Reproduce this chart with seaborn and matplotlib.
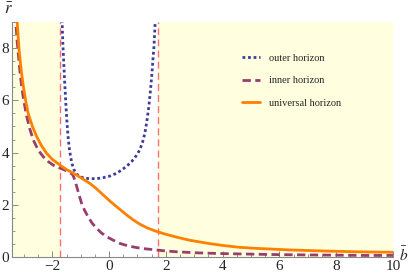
import numpy as np
import pandas as pd
import matplotlib
matplotlib.use("Agg")
import matplotlib.pyplot as plt
from matplotlib.ticker import MultipleLocator
import seaborn as sns

# values
outer_b = [-1.665, -1.63, -1.60, -1.56, -1.52, -1.48, -1.44, -1.40, -1.35, -1.30,
           -1.24, -1.16, -1.05, -0.90, -0.70, -0.45, -0.20, 0.03, 0.25, 0.44,
           0.62, 0.79, 0.95, 1.08, 1.18, 1.26, 1.33, 1.40, 1.45, 1.50,
           1.54, 1.58, 1.61, 1.635]
outer_r = [9.3, 8.2, 7.5, 6.6, 5.8, 5.1, 4.55, 4.15, 3.8, 3.55,
           3.35, 3.19, 3.09, 3.03, 3.0, 3.0, 3.04, 3.10, 3.20, 3.33,
           3.48, 3.65, 3.87, 4.10, 4.40, 4.74, 5.20, 5.76, 6.30, 6.91,
           7.50, 8.06, 8.7, 9.3]

inner_b = [-3.30, -3.25, -3.20, -3.14, -3.08, -3.00, -2.90, -2.80, -2.67, -2.50,
           -2.32, -2.15, -1.97, -1.80, -1.67, -1.50, -1.38, -1.30, -1.24, -1.18,
           -1.12, -1.05, -0.97, -0.86, -0.74, -0.60, -0.44, -0.28, -0.09, 0.15,
           0.38, 0.65, 0.97, 1.30, 1.67, 2.0, 2.38, 3.08, 4.0, 5.0,
           6.0, 7.0, 8.0, 9.0, 10.0]
inner_r = [9.3, 8.4, 7.8, 7.1, 6.53, 5.95, 5.38, 4.93, 4.48, 4.1,
           3.84, 3.66, 3.52, 3.43, 3.38, 3.30, 3.22, 3.18, 3.05, 2.85,
           2.62, 2.35, 2.06, 1.78, 1.54, 1.30, 1.10, 0.93, 0.78, 0.64,
           0.52, 0.43, 0.36, 0.31, 0.27, 0.23, 0.20, 0.16, 0.13, 0.11,
           0.09, 0.08, 0.07, 0.06, 0.06]

univ_b = [-3.25, -3.20, -3.16, -3.09, -3.02, -2.94, -2.85, -2.70, -2.55, -2.38,
          -2.20, -2.00, -1.73, -1.50, -1.26, -1.00, -0.68, -0.45, -0.21, 0.03,
          0.26, 0.45, 0.62, 0.85, 1.08, 1.35, 1.67, 2.0, 2.38, 2.85,
          3.5, 4.02, 4.6, 5.19, 6.37, 7.55, 8.72, 10.0]
univ_r = [9.2, 8.4, 7.8, 7.1, 6.53, 6.0, 5.5, 5.0, 4.61, 4.26,
          3.97, 3.74, 3.52, 3.35, 3.21, 3.04, 2.82, 2.62, 2.38, 2.14,
          1.93, 1.76, 1.61, 1.42, 1.26, 1.11, 0.98, 0.87, 0.76, 0.64,
          0.52, 0.44, 0.37, 0.33, 0.27, 0.23, 0.20, 0.18]

b_crit = [-np.sqrt(3), np.sqrt(3)]
x_range = [-3.42, 10]
y_range = [0, 9]

sns.set_theme(style="white")
plt.rcParams["font.family"] = ["Liberation Serif", "DejaVu Serif"]
plt.rcParams["mathtext.fontset"] = "stix"

fig = plt.figure(figsize=(4.09, 2.77), dpi=100)
ax = fig.add_axes([12 / 409, 20 / 277, 381 / 409, 235 / 277])

# shaded regions outside the critical lines
ax.axvspan(x_range[0], b_crit[0], color="#ffffe0", zorder=0, lw=0)
ax.axvspan(b_crit[1], x_range[1], color="#ffffe0", zorder=0, lw=0)
for xb in b_crit:
    ax.axvline(xb, color="#ff7070", lw=1.0, ls=(0, (5, 3)), zorder=1)

outer = pd.DataFrame({"b": outer_b, "r": outer_r})
inner = pd.DataFrame({"b": inner_b, "r": inner_r})
univ = pd.DataFrame({"b": univ_b, "r": univ_r})

sns.lineplot(data=outer, x="b", y="r", ax=ax, color="#3d3d99", lw=2.0,
             ls=(0, (1.0, 1.0)), sort=False, label="outer horizon")
sns.lineplot(data=inner, x="b", y="r", ax=ax, color="#993d70", lw=2.0,
             ls=(0, (3.0, 1.6)), sort=False, label="inner horizon")
sns.lineplot(data=univ, x="b", y="r", ax=ax, color="#ff8000", lw=2.0,
             sort=False, label="universal horizon")

ax.set_xlim(x_range)
ax.set_ylim(y_range)
ax.set_xlabel("")
ax.set_ylabel("")

for side in ["top", "right"]:
    ax.spines[side].set_visible(False)
for side in ["left", "bottom"]:
    ax.spines[side].set_color("#888888")
    ax.spines[side].set_linewidth(0.8)

ax.xaxis.set_major_locator(MultipleLocator(2))
ax.xaxis.set_minor_locator(MultipleLocator(0.5))
ax.yaxis.set_major_locator(MultipleLocator(2))
ax.yaxis.set_minor_locator(MultipleLocator(0.5))
ax.tick_params(which="major", direction="in", length=4, width=0.7,
               color="#888888", labelsize=11, pad=2, bottom=True, left=True)
ax.tick_params(which="minor", direction="in", length=2, width=0.6,
               color="#888888", bottom=True, left=True)
ax.set_xticks([-2, 0, 2, 4, 6, 8, 10])
ax.set_xticklabels(["\u22122", "0", "2", "4", "6", "8", "10"])

fig.text(8 / 409, 1 - 10 / 277, r"$\bar{r}$", fontsize=12, ha="center", va="center")
fig.text(404 / 409, 1 - 255 / 277, r"$\bar{b}$", fontsize=11, ha="center", va="center")

ax.legend(loc="upper left", bbox_to_anchor=(0.58, 0.905), frameon=False,
          fontsize=7.5, handlelength=1.7, labelspacing=1.25, handletextpad=0.9)

fig.savefig("out.png", dpi=100)
